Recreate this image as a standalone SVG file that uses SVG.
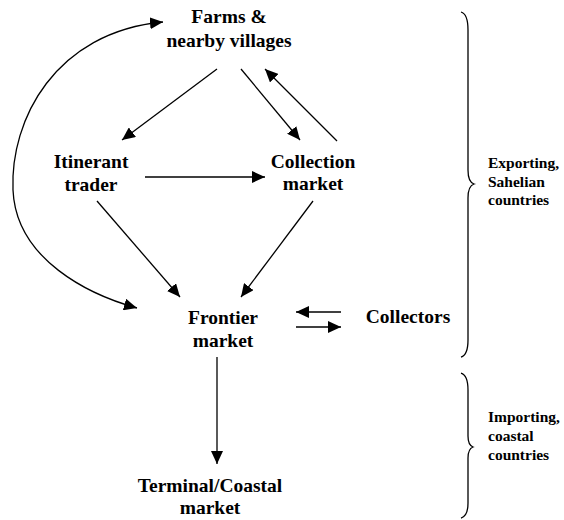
<svg xmlns="http://www.w3.org/2000/svg" width="564" height="520" viewBox="0 0 564 520">
<defs>
<marker id="ah" markerUnits="userSpaceOnUse" markerWidth="13" markerHeight="12" refX="13" refY="6" orient="auto">
<path d="M0,0 L13,6 L0,12 Z" fill="#000"/>
</marker>
<style>
.t{font-weight:bold;font-size:19.5px;fill:#000;text-anchor:middle}
.s{font-weight:bold;font-size:15.5px;fill:#000}
.c{fill:none;stroke:#000;stroke-width:1.3;marker-end:url(#ah)}
.b{fill:none;stroke:#000;stroke-width:1.3}
</style>
</defs>
<rect width="564" height="520" fill="#fff"/>
<g id="connectors">
<line class="c" x1="217" y1="69" x2="122" y2="140"/>
<line class="c" x1="241" y1="69" x2="300" y2="140"/>
<line class="c" x1="337" y1="141" x2="265" y2="69"/>
<line class="c" x1="145" y1="177" x2="265" y2="177"/>
<line class="c" x1="97" y1="201" x2="180" y2="297"/>
<line class="c" x1="313" y1="201" x2="241" y2="297"/>
<path class="c" d="M13,190 C10,120 55,32 163,22"/>
<path class="c" d="M13,190 C16,260 90,295 137,308"/>
<line class="c" x1="217" y1="357" x2="217" y2="464"/>
<line class="c" x1="341" y1="312" x2="296" y2="312"/>
<line class="c" x1="296" y1="327" x2="341" y2="327"/>
</g>
<g font-family="Liberation Serif, Times New Roman, serif">
<g id="farms"><text class="t" x="229" y="23">Farms &amp;</text><text class="t" x="229" y="47">nearby villages</text></g>
<g id="itinerant"><text class="t" x="91" y="168">Itinerant</text><text class="t" x="91" y="191">trader</text></g>
<g id="collection"><text class="t" x="313" y="168">Collection</text><text class="t" x="313" y="190">market</text></g>
<g id="frontier"><text class="t" x="223" y="324">Frontier</text><text class="t" x="223" y="347">market</text></g>
<g id="collectors"><text class="t" x="408" y="323">Collectors</text></g>
<g id="terminal"><text class="t" x="210" y="492">Terminal/Coastal</text><text class="t" x="210" y="514">market</text></g>
<g id="exporting">
<path class="b" d="M461,12 Q468,14 468,30 L468,170 Q468,182 474,184 Q468,186 468,198 L468,340 Q468,355 461,357"/>
<text class="s" x="488" y="168">Exporting,</text><text class="s" x="488" y="187">Sahelian</text><text class="s" x="488" y="205">countries</text>
</g>
<g id="importing">
<path class="b" d="M461,373 Q468,375 468,390 L468,436 Q468,445 473,447 Q468,449 468,458 L468,503 Q468,516 461,518"/>
<text class="s" x="488" y="422">Importing,</text><text class="s" x="488" y="441">coastal</text><text class="s" x="488" y="460">countries</text>
</g>
</g>
</svg>
